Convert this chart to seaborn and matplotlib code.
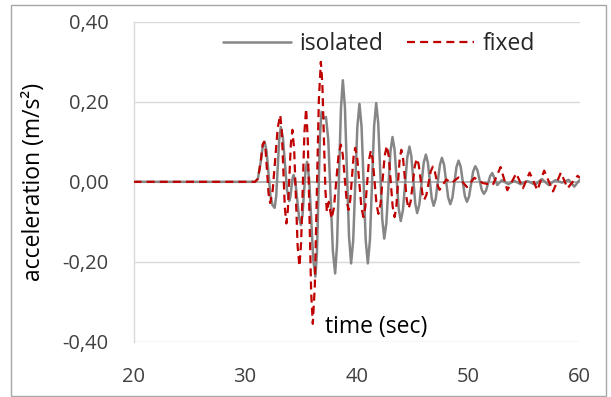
import matplotlib
matplotlib.use("Agg")
import matplotlib.pyplot as plt
import seaborn as sns
import pandas as pd
from matplotlib.patches import Rectangle

# ---- data (peaks, troughs and shoulder points) ----
t_isolated = [20, 30.9, 31.15, 31.4, 31.6, 31.75, 31.925, 32.275, 32.45, 32.65, 32.79, 33.06,
              33.2, 33.39, 33.76, 33.95, 34.05, 34.25, 34.35, 34.51, 34.84, 35.0, 35.14, 35.41,
              35.55, 35.74, 36.11, 36.3, 36.44, 36.71, 36.85, 37.05, 37.25, 37.455, 37.865,
              38.07, 38.24, 38.59, 38.76, 38.945, 39.315, 39.5, 39.69, 40.06, 40.25, 40.44,
              40.81, 41.0, 41.19, 41.56, 41.75, 41.93, 42.29, 42.47, 42.655, 43.025, 43.21,
              43.395, 43.765, 43.95, 44.145, 44.535, 44.73, 44.9, 45.25, 45.42, 45.615, 46.005,
              46.2, 46.375, 46.725, 46.9, 47.085, 47.455, 47.64, 47.83, 48.2, 48.39, 48.575,
              48.945, 49.13, 49.32, 49.69, 49.88, 50.07, 50.44, 50.63, 50.82, 51.21, 51.4,
              51.59, 51.96, 52.15, 52.6, 53.0, 53.6, 54.1, 54.7, 55.3, 56.0, 56.6, 57.2, 57.8,
              58.4, 59.0, 59.5, 60]
a_isolated = [0, 0, 0.008, 0.05, 0.093, 0.10, 0.077, -0.035, -0.058, -0.065, -0.035, 0.107,
              0.137, 0.110, -0.021, -0.048, -0.039, 0.008, 0.017, -0.001, -0.090, -0.108,
              -0.085, 0.027, 0.05, 0.008, -0.195, -0.237, -0.177, 0.115, 0.175, 0.158, 0.162,
              0.105, -0.172, -0.229, -0.158, 0.183, 0.254, 0.187, -0.137, -0.204, -0.146,
              0.137, 0.195, 0.137, -0.146, -0.204, -0.145, 0.138, 0.197, 0.147, -0.092,
              -0.142, -0.105, 0.075, 0.112, 0.081, -0.067, -0.098, -0.071, 0.061, 0.088,
              0.064, -0.054, -0.078, -0.057, 0.047, 0.068, 0.049, -0.041, -0.060, -0.042,
              0.042, 0.060, 0.043, -0.039, -0.056, -0.040, 0.037, 0.053, 0.038, -0.035,
              -0.05, -0.037, 0.026, 0.039, 0.029, -0.020, -0.03, -0.022, 0.014, 0.022,
              -0.008, 0.004, -0.006, 0.003, -0.006, 0.002, -0.007, 0.007, -0.008, 0.004,
              -0.002, 0.005, -0.012, 0.005]

t_fixed = [20, 30.9, 31.15, 31.4, 31.58, 31.7, 31.84, 32.11, 32.25, 32.475, 32.925, 33.15,
           33.29, 33.56, 33.7, 33.835, 34.105, 34.24, 34.4, 34.71, 34.87, 35.02, 35.32, 35.47,
           35.62, 35.92, 36.07, 36.25, 36.61, 36.79, 36.925, 37.195, 37.33, 37.5, 37.75,
           37.96, 38.37, 38.58, 38.75, 39.1, 39.27, 39.42, 39.72, 39.87, 40.05, 40.42, 40.6,
           40.77, 41.1, 41.27, 41.44, 41.78, 41.95, 42.14, 42.51, 42.7, 42.875, 43.225, 43.4,
           43.55, 43.85, 44.0, 44.16, 44.49, 44.65, 44.84, 45.21, 45.4, 45.56, 45.89, 46.05,
           46.245, 46.635, 46.83, 46.98, 47.28, 47.43, 48.03, 48.5, 49.13, 49.88, 50.55,
           51.3, 52.2, 52.9, 53.5, 54.3, 54.9, 55.5, 56.2, 56.8, 57.6, 58.3, 58.9, 59.8, 60]
a_fixed = [0, 0, 0.008, 0.05, 0.093, 0.10, 0.078, -0.031, -0.053, -0.021, 0.135, 0.167,
           0.127, -0.064, -0.104, -0.070, 0.096, 0.13, 0.080, -0.161, -0.211, -0.153, 0.125,
           0.183, 0.104, -0.276, -0.355, -0.259, 0.204, 0.30, 0.245, -0.02, -0.075, -0.05,
           -0.092, -0.065, 0.065, 0.093, 0.069, -0.046, -0.07, -0.047, 0.062, 0.085, 0.060,
           -0.063, -0.088, -0.064, 0.054, 0.078, 0.055, -0.057, -0.08, -0.055, 0.065, 0.09,
           0.064, -0.062, -0.088, -0.063, 0.055, 0.08, 0.058, -0.045, -0.067, -0.049, 0.040,
           0.058, 0.043, -0.030, -0.045, -0.033, 0.026, 0.038, 0.029, -0.011, -0.02, 0.006,
           -0.003, 0.011, -0.013, 0.01, -0.003, -0.008, 0.037, -0.021, 0.021, -0.016, 0.023,
           -0.021, 0.028, -0.024, 0.023, -0.016, 0.015, 0.01]

x_ticks = [20, 30, 40, 50, 60]
y_ticks = [-0.40, -0.20, 0.00, 0.20, 0.40]
y_tick_labels = ["-0,40", "-0,20", "0,00", "0,20", "0,40"]
series_names = ["isolated", "fixed"]

df_iso = pd.DataFrame({"time": t_isolated, "acc": a_isolated})
df_fix = pd.DataFrame({"time": t_fixed, "acc": a_fixed})

sns.set_theme(style="white")
plt.rcParams["font.family"] = ["Open Sans", "DejaVu Sans"]

fig = plt.figure(figsize=(6.11, 3.97), dpi=100)
ax = fig.add_axes([0.2185, 0.139, 0.7305, 0.806])

for y in [-0.4, -0.2, 0.2, 0.4]:
    ax.axhline(y, color="#d9d9d9", lw=1.0, zorder=0)
ax.axhline(0, color="#a6a6a6", lw=1.2, zorder=1)

sns.lineplot(data=df_iso, x="time", y="acc", ax=ax, color="#868686", lw=1.8,
             label=series_names[0], sort=False, estimator=None, zorder=2)
sns.lineplot(data=df_fix, x="time", y="acc", ax=ax, color="#c00000", lw=1.6,
             label=series_names[1], sort=False, estimator=None, zorder=3)
ax.lines[-1].set_dashes([3.6, 2.3])

ax.set_xlim(20, 60)
ax.set_ylim(-0.40, 0.40)
ax.set_xticks(x_ticks)
ax.set_xticklabels([str(v) for v in x_ticks])
ax.set_yticks(y_ticks)
ax.set_yticklabels(y_tick_labels)
ax.tick_params(axis="x", length=0, pad=18, labelsize=14.5, labelcolor="#404040")
ax.tick_params(axis="y", length=0, pad=18, labelsize=14.5, labelcolor="#404040")
ax.grid(False)

for s in ["top", "right", "bottom"]:
    ax.spines[s].set_visible(False)
ax.spines["left"].set_color("#d9d9d9")
ax.spines["left"].set_linewidth(1.0)

ax.set_xlabel("")
ax.set_ylabel("acceleration (m/s²)", fontsize=16.5, color="black")
ax.yaxis.set_label_coords(-0.196, 0.5)
ax.text(0.543, 0.045, "time (sec)", transform=ax.transAxes, fontsize=16.5,
        ha="center", va="center", color="black")

leg = ax.legend(loc="center", bbox_to_anchor=(0.55, 0.93), ncol=2, frameon=False,
                fontsize=16.5, handlelength=2.95, handletextpad=0.35, columnspacing=1.05)
for txt in leg.get_texts():
    txt.set_color("#262626")

fig.patches.append(Rectangle((11 / 611, 1 / 397), 595 / 611, 391 / 397,
                             transform=fig.transFigure, fill=False,
                             edgecolor="#a6a6a6", lw=1.0))

fig.savefig("out.png", dpi=100)
